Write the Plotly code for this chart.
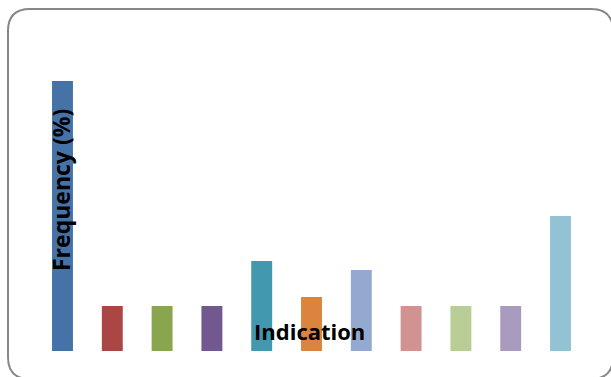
import plotly.graph_objects as go

W, H = 611, 377

# Share of cases per indication (%)
categories = ["A", "B", "C", "D", "E", "F", "G", "H", "I", "J", "K"]
frequency = [30, 5, 5, 5, 10, 6, 9, 5, 5, 5, 15]
colors = ["#4572A7", "#AA4643", "#89A54E", "#71588F", "#4198AF", "#DB843D",
          "#93A9CF", "#D19392", "#B9CD96", "#A99BBD", "#91C3D5"]

fig = go.Figure(go.Bar(x=categories, y=frequency, marker=dict(color=colors, line=dict(width=0))))

def px(x):
    return x / W

def py(y):
    return 1 - y / H

# rounded frame around the chart area
x0, y0, x1, y1, r = 8, 9, 613, 379, 22
path = (
    f"M {px(x0 + r)} {py(y0)} L {px(x1 - r)} {py(y0)} "
    f"Q {px(x1)} {py(y0)} {px(x1)} {py(y0 + r)} "
    f"L {px(x1)} {py(y1 - r)} Q {px(x1)} {py(y1)} {px(x1 - r)} {py(y1)} "
    f"L {px(x0 + r)} {py(y1)} Q {px(x0)} {py(y1)} {px(x0)} {py(y1 - r)} "
    f"L {px(x0)} {py(y0 + r)} Q {px(x0)} {py(y0)} {px(x0 + r)} {py(y0)} Z"
)

fig.update_layout(
    width=W, height=H,
    margin=dict(l=0, r=0, t=0, b=0),
    paper_bgcolor="white", plot_bgcolor="white",
    showlegend=False,
    bargap=0.58,
    xaxis=dict(domain=[px(37.6), px(585.4)], visible=False, range=[-0.5, 10.5]),
    yaxis=dict(domain=[py(351), py(36)], visible=False, range=[0, 35]),
    shapes=[dict(type="path", xref="paper", yref="paper", path=path,
                 line=dict(color="#878787", width=2), fillcolor="rgba(0,0,0,0)")],
    annotations=[
        dict(text="<b>Frequency (%)</b>", xref="paper", yref="paper",
             x=px(61), y=py(190), textangle=-90, showarrow=False,
             font=dict(family="Open Sans", size=23, color="black"),
             xanchor="center", yanchor="middle"),
        dict(text="<b>Indication</b>", xref="paper", yref="paper",
             x=px(309), y=py(331), showarrow=False,
             font=dict(family="Open Sans", size=22, color="black"),
             xanchor="center", yanchor="middle"),
    ],
)

fig.write_html("out.html")
